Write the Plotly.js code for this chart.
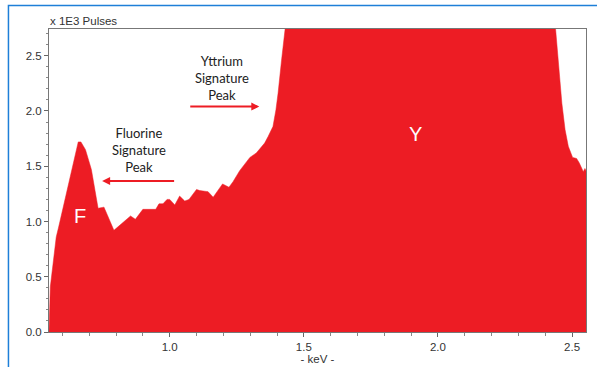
<!DOCTYPE html>
<html>
<head>
<meta charset="utf-8">
<script src="https://cdn.plot.ly/plotly-3.0.1.min.js"></script>
<style>html,body{margin:0;padding:0;background:#fff;}#chart{width:597px;height:367px;}</style>
</head>
<body>
<div id="chart"></div>
<script>
// Energy (keV) and counts (x 1E3 pulses); values above 2.75 are off-scale (clipped in the original)
const keV = [0.550, 0.555, 0.577, 0.586, 0.659, 0.669, 0.686, 0.708, 0.733, 0.755, 0.792,
  0.854, 0.872, 0.900, 0.948, 0.960, 0.975, 0.990, 1.000, 1.019, 1.037, 1.056, 1.072,
  1.100, 1.112, 1.143, 1.162, 1.197, 1.221, 1.236, 1.261, 1.299, 1.323, 1.336, 1.354,
  1.367, 1.385, 1.396, 1.404, 1.417, 1.429, 1.440, 1.500, 1.700, 1.920, 2.200, 2.400,
  2.430, 2.439, 2.449, 2.462, 2.474, 2.486, 2.502, 2.517, 2.527, 2.542, 2.548, 2.552];
const pulses = [0.00, 0.41, 0.86, 0.95, 1.72, 1.72, 1.65, 1.47, 1.12, 1.13, 0.92,
  1.05, 1.02, 1.11, 1.11, 1.16, 1.16, 1.20, 1.20, 1.15, 1.23, 1.185, 1.20,
  1.29, 1.28, 1.27, 1.22, 1.34, 1.31, 1.36, 1.46, 1.58, 1.62, 1.66, 1.71,
  1.77, 1.86, 2.01, 2.16, 2.46, 2.73, 2.95, 3.60, 4.80, 5.50, 4.60, 3.40,
  2.95, 2.73, 2.43, 2.07, 1.83, 1.68, 1.58, 1.57, 1.53, 1.45, 1.48, 1.46];

const xTicks = [1.0, 1.5, 2.0, 2.5];
const yTicks = [0.0, 0.5, 1.0, 1.5, 2.0, 2.5];
const yTitle = 'x 1E3 Pulses';
const xTitle = '- keV -';
const peakLabels = ['Yttrium<br>Signature<br>Peak', 'Fluorine<br>Signature<br>Peak'];
const elementLabels = ['F', 'Y'];

const red = '#ED1C24';
const tickFont = {family: 'Liberation Sans, Arial, sans-serif', size: 11.5, color: '#333'};
const annFont = {family: 'Lato, Open Sans, sans-serif', size: 13, color: '#222'};

const trace = {
  x: keV, y: pulses, type: 'scatter', mode: 'lines',
  fill: 'tozeroy', fillcolor: red,
  line: {color: red, width: 0.5}, hoverinfo: 'skip'
};

const layout = {
  width: 597, height: 367,
  margin: {l: 49, r: 11, t: 29, b: 35},
  paper_bgcolor: '#fff', plot_bgcolor: '#fff',
  showlegend: false,
  xaxis: {
    range: [0.55, 2.552], tickvals: xTicks, ticktext: xTicks.map(v => v.toFixed(1)),
    ticks: 'outside', ticklen: 4, tickcolor: '#666', showgrid: false, zeroline: false,
    showline: true, linecolor: '#777', linewidth: 1, mirror: true,
    minor: {dtick: 0.1, tick0: 0, ticks: 'outside', ticklen: 3, tickcolor: '#888', showgrid: false},
    tickfont: tickFont,
    title: {text: xTitle, font: tickFont, standoff: 2}
  },
  yaxis: {
    range: [0, 2.742], tickvals: yTicks, ticktext: yTicks.map(v => v.toFixed(1)),
    ticks: 'outside', ticklen: 4, tickcolor: '#666', showgrid: false, zeroline: false,
    showline: true, linecolor: '#777', linewidth: 1, mirror: true,
    minor: {dtick: 0.1, tick0: 0, ticks: 'outside', ticklen: 2, tickcolor: '#888', showgrid: false},
    tickfont: tickFont
  },
  shapes: [
    {type: 'rect', xref: 'paper', yref: 'paper', x0: -0.0755, x1: 1.3, y0: -0.3, y1: 1.0775,
     line: {color: '#1E7FD8', width: 1.5}, fillcolor: 'rgba(0,0,0,0)', layer: 'below'}
  ],
  annotations: [
    {xref: 'paper', yref: 'paper', x: 0, y: 1.0, xanchor: 'left', yanchor: 'bottom',
     text: yTitle, showarrow: false, font: tickFont, xshift: -1},
    {xref: 'x', yref: 'y', x: 1.194, y: 2.05, xanchor: 'center', yanchor: 'bottom',
     text: peakLabels[0], showarrow: false, font: annFont, align: 'center'},
    {xref: 'x', yref: 'y', x: 1.334, y: 2.04, ax: 1.071, ay: 2.04, axref: 'x', ayref: 'y',
     text: '', showarrow: true, arrowhead: 2, arrowsize: 0.8, arrowwidth: 2, arrowcolor: red},
    {xref: 'x', yref: 'y', x: 0.884, y: 1.40, xanchor: 'center', yanchor: 'bottom',
     text: peakLabels[1], showarrow: false, font: annFont, align: 'center'},
    {xref: 'x', yref: 'y', x: 0.748, y: 1.366, ax: 1.022, ay: 1.366, axref: 'x', ayref: 'y',
     text: '', showarrow: true, arrowhead: 2, arrowsize: 0.8, arrowwidth: 2, arrowcolor: red},
    {xref: 'x', yref: 'y', x: 0.664, y: 1.05, xanchor: 'center', yanchor: 'middle',
     text: elementLabels[0], showarrow: false, font: {family: 'Liberation Sans, Arial', size: 20, color: '#fff'}},
    {xref: 'x', yref: 'y', x: 1.915, y: 1.79, xanchor: 'center', yanchor: 'middle',
     text: elementLabels[1], showarrow: false, font: {family: 'Liberation Sans, Arial', size: 20, color: '#fff'}}
  ]
};

Plotly.newPlot('chart', [trace], layout, {displayModeBar: false, staticPlot: true});
</script>
</body>
</html>
